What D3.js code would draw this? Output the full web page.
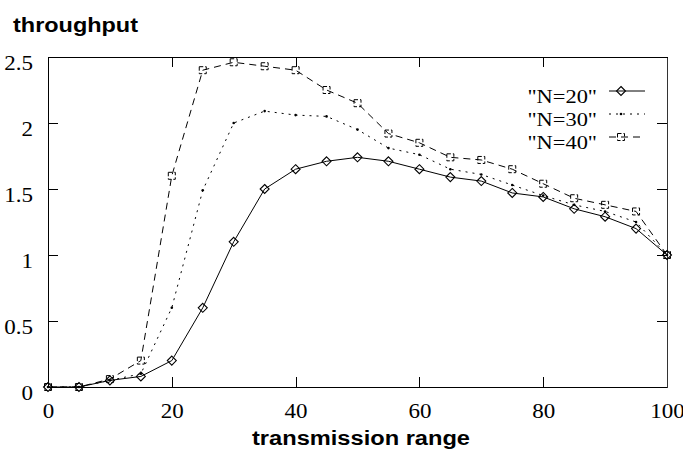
<!DOCTYPE html>
<html>
<head>
<meta charset="utf-8">
<script src="https://cdn.jsdelivr.net/npm/d3@7"></script>
<style>
  body { margin: 0; background: #fff; }
</style>
</head>
<body>
<svg class="chart"></svg>
<script>
// ----- Data -----
let ranges = [0, 5, 10, 15, 20, 25, 30, 35, 40, 45, 50, 55, 60, 65, 70, 75, 80, 85, 90, 95, 100]
let n20 = [0, 0, 0.05, 0.08, 0.2, 0.6, 1.1, 1.5, 1.65, 1.71, 1.74, 1.71, 1.65, 1.59, 1.56, 1.47, 1.44, 1.35, 1.29, 1.2, 1.0]
let n30 = [0, 0, 0.05, 0.1, 0.6, 1.49, 2.0, 2.09, 2.06, 2.05, 1.95, 1.81, 1.76, 1.65, 1.61, 1.53, 1.45, 1.38, 1.33, 1.25, 1.0]
let n40 = [0, 0, 0.06, 0.2, 1.6, 2.4, 2.46, 2.43, 2.4, 2.25, 2.15, 1.92, 1.85, 1.74, 1.72, 1.65, 1.54, 1.43, 1.38, 1.33, 1.0]
let seriesNames = ['"N=20"', '"N=30"', '"N=40"']
let xTicks = [0, 20, 40, 60, 80, 100]
let yTicks = [0, 0.5, 1, 1.5, 2, 2.5]

// ----- SVG -----
let svgWidth = 683
let svgHeight = 453
let svg = d3.select('.chart')
            .attr('width', svgWidth)
            .attr('height', svgHeight)

let plotLeft = 48, plotRight = 667, plotTop = 57, plotBottom = 387
let x = d3.scaleLinear().domain([0, 100]).range([plotLeft, plotRight])
let y = d3.scaleLinear().domain([0, 2.5]).range([plotBottom, plotTop])

let serif = '"Liberation Serif", "Times New Roman", serif'
let sans = '"Liberation Sans", Arial, sans-serif'
let tickLen = 10

// Axes (ticks point inward, mirrored on top / right)
let gx = svg.append('g')
   .attr('transform', 'translate(0,' + plotBottom + ')')
   .call(d3.axisBottom(x).tickValues(xTicks).tickSizeInner(-tickLen).tickSizeOuter(0).tickPadding(17))
let gy = svg.append('g')
   .attr('transform', 'translate(' + plotLeft + ',0)')
   .call(d3.axisLeft(y).tickValues(yTicks).tickSizeInner(-tickLen).tickSizeOuter(0).tickPadding(13)
           .tickFormat(d3.format('')))
svg.append('g')
   .attr('transform', 'translate(0,' + plotTop + ')')
   .call(d3.axisTop(x).tickValues(xTicks).tickSizeInner(-tickLen).tickSizeOuter(0).tickFormat(''))
let gr = svg.append('g')
   .attr('transform', 'translate(' + plotRight + ',0)')
   .call(d3.axisRight(y).tickValues(yTicks).tickSizeInner(-tickLen).tickSizeOuter(0).tickFormat(''))
gr.select('.domain').attr('stroke', '#333').attr('stroke-width', 1.8)

svg.selectAll('.domain, .tick line').attr('shape-rendering', 'crispEdges')

gx.selectAll('text')
  .attr('font-family', serif).attr('font-size', '20px').attr('fill', '#000')
  .attr('transform', 'scale(1.15,1)')
gy.selectAll('text')
  .attr('font-family', serif).attr('font-size', '20px').attr('fill', '#000')
  .attr('dy', '0.62em')
  .attr('transform', 'scale(1.15,1)')

// Titles
svg.append('text')
   .attr('x', 13).attr('y', 32)
   .attr('font-family', sans).attr('font-weight', 'bold').attr('font-size', '20px')
   .attr('textLength', 125).attr('lengthAdjust', 'spacingAndGlyphs')
   .text('throughput')
svg.append('text')
   .attr('x', 252).attr('y', 445)
   .attr('font-family', sans).attr('font-weight', 'bold').attr('font-size', '20px')
   .attr('textLength', 218).attr('lengthAdjust', 'spacingAndGlyphs')
   .text('transmission range')

// ----- Series -----
let series = [
  {name: seriesNames[2], values: n40, dash: '7,5', mark: 'box'},
  {name: seriesNames[1], values: n30, dash: '2,5', mark: 'dot'},
  {name: seriesNames[0], values: n20, dash: null, mark: 'diamond'}
]

let line = d3.line()
             .x(function (d) { return x(d.x) })
             .y(function (d) { return y(d.y) })

function drawMark(g, kind, cx, cy) {
    if (kind == 'diamond') {
        g.append('path')
         .attr('d', 'M' + cx + ',' + (cy - 4.5) + 'L' + (cx + 4.5) + ',' + cy +
                    'L' + cx + ',' + (cy + 4.5) + 'L' + (cx - 4.5) + ',' + cy + 'Z')
         .attr('fill', 'none').attr('stroke', '#000').attr('stroke-width', 1.1)
    } else if (kind == 'box') {
        g.append('rect')
         .attr('x', cx - 3.5).attr('y', cy - 3.5).attr('width', 7).attr('height', 7)
         .attr('fill', 'none').attr('stroke', '#000').attr('stroke-width', 1)
         .attr('stroke-dasharray', '4,2')
    } else {
        g.append('circle')
         .attr('cx', cx).attr('cy', cy).attr('r', 1.3).attr('fill', '#000')
    }
}

series.forEach(function (s) {
    let pts = ranges.map(function (r, i) { return {x: r, y: s.values[i]} })
    let g = svg.append('g')
    g.append('path')
     .attr('d', line(pts))
     .attr('fill', 'none')
     .attr('stroke', '#000')
     .attr('stroke-width', 1)
     .attr('stroke-dasharray', s.dash)
    pts.forEach(function (p) { drawMark(g, s.mark, x(p.x), y(p.y)) })
})

// ----- Legend -----
let legendRows = [
  {name: seriesNames[0], dash: null, mark: 'diamond'},
  {name: seriesNames[1], dash: '2,5', mark: 'dot'},
  {name: seriesNames[2], dash: '7,5', mark: 'box'}
]
legendRows.forEach(function (r, i) {
    let ly = 91 + i * 23
    let g = svg.append('g')
    g.append('text')
     .attr('x', 597 / 1.15).attr('y', ly + 12)
     .attr('transform', 'scale(1.15,1)')
     .attr('text-anchor', 'end')
     .attr('font-family', serif).attr('font-size', '19.5px')
     .text(r.name)
    g.append('line')
     .attr('x1', 609).attr('x2', 645).attr('y1', ly).attr('y2', ly)
     .attr('stroke', '#000').attr('stroke-width', 1)
     .attr('stroke-dasharray', r.dash)
    drawMark(g, r.mark, 621, ly)
})
</script>
</body>
</html>
